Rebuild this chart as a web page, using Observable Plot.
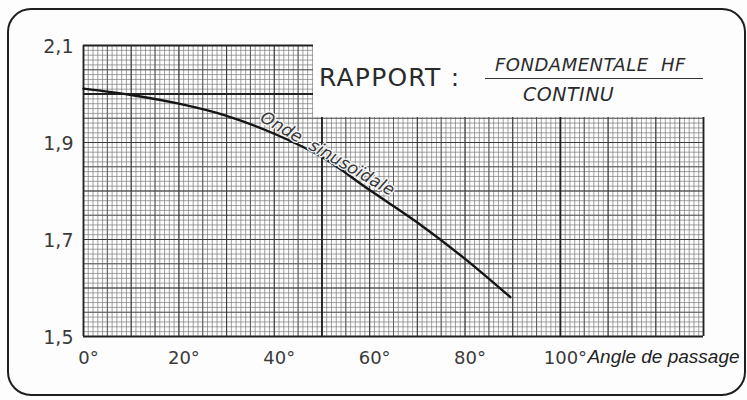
<!DOCTYPE html>
<html>
<head>
<meta charset="utf-8">
<script src="https://cdn.jsdelivr.net/npm/d3@7"></script>
<script src="https://cdn.jsdelivr.net/npm/@observablehq/plot@0.6"></script>
<style>
  html, body { margin: 0; padding: 0; background: #fff; }
  #wrap { position: relative; width: 747px; height: 400px; overflow: hidden; background: #fdfdfd; }
  #border { position: absolute; left: 7px; top: 8px; width: 735px; height: 384px;
            border: 2px solid #1e1e1e; border-radius: 24px; pointer-events: none; }
  #titlebox { position: absolute; left: 313px; top: 38px; width: 400px; height: 79px; background: #fdfdfd; }
  #t1 { position: absolute; left: 6px; top: 25px; font: 25px "DejaVu Sans", sans-serif; color: #2a2a2a; letter-spacing: 1.2px; }
  #num { position: absolute; left: 182px; top: 16px; font: italic 18px "DejaVu Sans", sans-serif; color: #2a2a2a; letter-spacing: 0.5px; white-space: pre; }
  #bar { position: absolute; left: 172px; top: 40px; width: 218px; height: 0; border-top: 1.6px solid #333; }
  #den { position: absolute; left: 210px; top: 45px; font: italic 19px "DejaVu Sans", sans-serif; color: #2a2a2a; letter-spacing: 0.5px; }
</style>
</head>
<body>
<div id="wrap">
  <div id="chart"></div>
  <div id="titlebox">
    <div id="t1"></div>
    <div id="num"></div>
    <div id="bar"></div>
    <div id="den"></div>
  </div>
  <div id="border"></div>
</div>
<script>
// ---- data ----
const angles = [0, 10, 20, 30, 40, 50, 60, 70, 80, 89.5];          // angle de passage (deg)
const ratio  = [2.011, 1.998, 1.980, 1.955, 1.918, 1.870, 1.802, 1.735, 1.660, 1.581]; // fondamentale HF / continu
const xTicks = [0, 20, 40, 60, 80, 100];
const yTicks = [1.5, 1.7, 1.9, 2.1];
const titleText = "RAPPORT :";
const numeratorText = "FONDAMENTALE  HF";
const denominatorText = "CONTINU";
const xAxisLabel = "Angle de passage";
const curveLabel = "Onde  sinusoïdale";
const curveLabelAngle = 52;

document.getElementById("t1").textContent = titleText;
document.getElementById("num").textContent = numeratorText;
document.getElementById("den").textContent = denominatorText;

const data = angles.map((a, i) => ({angle: a, ratio: ratio[i]}));
const labelY = ratio[5] + (ratio[6] - ratio[5]) * (curveLabelAngle - 50) / 10;

const xMinor = d3.range(0, 131, 1);
const xMid = d3.range(5, 131, 10);
const xMajor = d3.range(0, 131, 10);
const xHeavy = [0, 50, 100, 130];
const yMinor = d3.range(0, 61).map(i => 1.5 + i / 100);
const yMid = d3.range(0, 6).map(i => 1.55 + i / 10);
const yMajor = d3.range(0, 7).map(i => 1.5 + i / 10);
const yHeavy = [1.5, 2.0, 2.1];

const chart = Plot.plot({
  width: 747,
  height: 400,
  marginLeft: 83,
  marginRight: 44,
  marginTop: 45,
  marginBottom: 64,
  style: {background: "transparent", fontFamily: "DejaVu Sans, sans-serif"},
  x: {domain: [0, 130]},
  y: {domain: [1.5, 2.1]},
  marks: [
    Plot.ruleX(xMinor, {x: d => d, stroke: "#7a7a7a", strokeWidth: 0.7}),
    Plot.ruleY(yMinor, {y: d => d, stroke: "#7a7a7a", strokeWidth: 0.7}),
    Plot.ruleX(xMid, {x: d => d, stroke: "#555", strokeWidth: 0.9}),
    Plot.ruleY(yMid, {y: d => d, stroke: "#555", strokeWidth: 0.9}),
    Plot.ruleX(xMajor, {x: d => d, stroke: "#3a3a3a", strokeWidth: 1.1}),
    Plot.ruleY(yMajor, {y: d => d, stroke: "#3a3a3a", strokeWidth: 1.1}),
    Plot.ruleX(xHeavy, {x: d => d, stroke: "#222", strokeWidth: 1.8}),
    Plot.ruleY(yHeavy, {y: d => d, stroke: "#222", strokeWidth: 1.8}),
    Plot.line(data, {x: "angle", y: "ratio", stroke: "#151515", strokeWidth: 2.4, curve: "monotone-x"}),
    Plot.text([curveLabel], {x: curveLabelAngle, y: labelY, text: d => d, rotate: 30, dx: -4, dy: -10,
      fontSize: 17, fontStyle: "italic", fill: "#3a3a3a", letterSpacing: 2.2,
      stroke: "#f4f4f4", strokeWidth: 2.5, paintOrder: "stroke"}),
    Plot.axisY(yTicks, {tickSize: 0, tickPadding: 10, fontSize: 19, fill: "#3a3a3a", label: null,
      tickFormat: d => d.toFixed(1).replace(".", ","), dy: 1}),
    Plot.axisX(xTicks, {tickSize: 0, tickPadding: 15, fontSize: 18, fill: "#3a3a3a",
      tickFormat: d => d + "°", dx: 5, label: null}),
    Plot.text([xAxisLabel], {x: 100, frameAnchor: "bottom", text: d => d, textAnchor: "start",
      dx: 27, dy: 26, fontSize: 19, fontStyle: "italic", fontFamily: "Liberation Sans, sans-serif", fill: "#222"})
  ]
});
document.getElementById("chart").appendChild(chart);
</script>
</body>
</html>
